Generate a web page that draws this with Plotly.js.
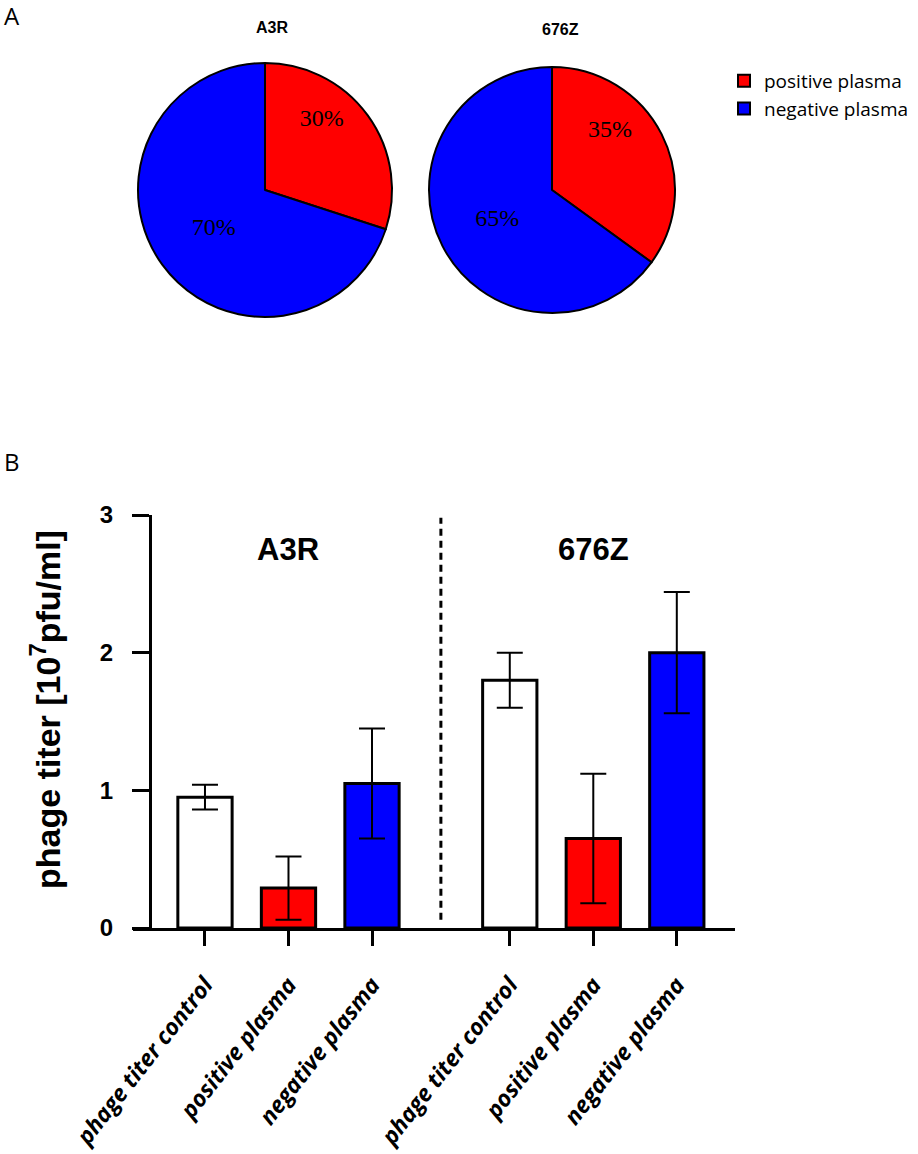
<!DOCTYPE html>
<html>
<head>
<meta charset="utf-8">
<script src="https://cdn.plot.ly/plotly-3.0.1.min.js"></script>
<style>
  html, body { margin: 0; padding: 0; background: #fff; }
  #chart { width: 918px; height: 1154px; }
</style>
</head>
<body>
<div id="chart"></div>
<script>
// panel A: share of plasma samples
const pieLabels = ['positive plasma', 'negative plasma'];
const pieA3R = [30, 70];
const pie676Z = [35, 65];

// panel B: phage titer (10^7 pfu/ml), mean and error
const strains = ['A3R', '676Z'];
const conditions = ['phage titer control', 'positive plasma', 'negative plasma'];
const titerA3R = [0.95, 0.29, 1.05];
const errA3R = [0.09, 0.23, 0.40];
const titer676Z = [1.80, 0.65, 2.00];
const err676Z = [0.20, 0.47, 0.44];

const W = 918, H = 1154;
const px = v => v / W;
const py = v => 1 - v / H;

const sliceColors = ['#ff0000', '#0000ff'];
const barColors = ['#ffffff', '#ff0000', '#0000ff'];
const GROUP_STEP = 3.65;

const pieFont = { family: 'Liberation Serif', size: 24, color: '#000' };

function makePie(values, xd, yd, showlegend) {
    return {
        type: 'pie',
        labels: pieLabels,
        values: values,
        sort: false,
        direction: 'clockwise',
        rotation: 0,
        // small slice label sits higher, toward the rim
        texttemplate: ['%{percent}<br> <br> ', '%{percent}'],
        textposition: 'inside',
        insidetextorientation: 'horizontal',
        textfont: pieFont,
        marker: { colors: sliceColors, line: { color: '#000', width: 2 } },
        domain: { x: xd, y: yd },
        showlegend: showlegend,
        hoverinfo: 'label+percent'
    };
}

const groups = [
    { name: strains[0], y: titerA3R, err: errA3R },
    { name: strains[1], y: titer676Z, err: err676Z }
];

const barX = [], barY = [], barErr = [], barCol = [], tickText = [];
groups.forEach((g, gi) => {
    conditions.forEach((c, i) => {
        barX.push(gi * GROUP_STEP + i);
        barY.push(g.y[i]);
        barErr.push(g.err[i]);
        barCol.push(barColors[i]);
        tickText.push(c);
    });
});

const bars = {
    type: 'bar',
    x: barX,
    y: barY,
    width: 0.65,
    marker: { color: barCol, line: { color: '#000', width: 3 } },
    error_y: { type: 'data', array: barErr, visible: true, color: '#000', thickness: 2, width: 13 },
    showlegend: false,
    xaxis: 'x',
    yaxis: 'y'
};

const data = [
    makePie(pieA3R, [px(138), px(392)], [py(317), py(63)], true),
    makePie(pie676Z, [px(429), px(675)], [py(313), py(67)], false),
    bars
];

const bold = { family: 'Liberation Sans', weight: 700, color: '#000' };
const dividerX = (2 + GROUP_STEP) / 2;

const annotations = [
    { text: 'A', x: px(2), y: py(15), xanchor: 'left', yanchor: 'middle',
      font: { family: 'Open Sans', size: 24, color: '#000' } },
    { text: 'B', x: px(2), y: py(462), xanchor: 'left', yanchor: 'middle',
      font: { family: 'Open Sans', size: 24, color: '#000' } },
    { text: strains[0], x: px(272), y: py(27), xanchor: 'center', yanchor: 'middle',
      font: Object.assign({ size: 16 }, bold) },
    { text: strains[1], x: px(560), y: py(29), xanchor: 'center', yanchor: 'middle',
      font: Object.assign({ size: 16 }, bold) },
    { text: 'phage titer [10<sup>7</sup>pfu/ml]', textangle: -90,
      x: px(45), y: py(710), xanchor: 'center', yanchor: 'middle',
      font: Object.assign({ size: 34 }, bold) }
];
groups.forEach((g, gi) => {
    annotations.push({
        text: g.name, xref: 'x', yref: 'y', x: gi * GROUP_STEP + 1, y: 2.75,
        xanchor: 'center', yanchor: 'middle', showarrow: false,
        font: Object.assign({ size: 31 }, bold)
    });
});
annotations.forEach(a => {
    a.showarrow = false;
    if (!a.xref) { a.xref = 'paper'; a.yref = 'paper'; }
});

const layout = {
    width: W,
    height: H,
    margin: { l: 0, r: 0, t: 0, b: 0 },
    paper_bgcolor: '#fff',
    plot_bgcolor: 'rgba(0,0,0,0)',
    showlegend: true,
    legend: {
        x: px(724), y: py(62), xanchor: 'left', yanchor: 'top',
        font: { family: 'Open Sans', size: 19, color: '#000' },
        tracegroupgap: 0
    },
    xaxis: {
        domain: [px(133), px(735)],
        range: [-0.862, 6.347],
        showgrid: false,
        zeroline: false,
        showline: true,
        linecolor: '#000',
        linewidth: 3,
        tickvals: barX,
        ticktext: tickText,
        ticks: 'outside',
        ticklen: 15,
        tickwidth: 3,
        tickcolor: '#000',
        tickangle: -52,
        ticklabelstandoff: 16,
        tickfont: { family: 'Open Sans', size: 23, weight: 700, style: 'italic', color: '#000' },
        fixedrange: true
    },
    yaxis: {
        domain: [py(928), py(515)],
        range: [0, 3],
        anchor: 'free',
        position: px(150),
        showgrid: false,
        zeroline: false,
        showline: true,
        linecolor: '#000',
        linewidth: 3,
        tickvals: [0, 1, 2, 3],
        ticks: 'outside',
        ticklen: 17,
        tickwidth: 3,
        tickcolor: '#000',
        ticklabelstandoff: 14,
        tickfont: Object.assign({ size: 24 }, bold),
        fixedrange: true
    },
    shapes: [
        { type: 'line', xref: 'x', yref: 'y', x0: dividerX, x1: dividerX, y0: 0.06, y1: 2.98,
          line: { color: '#000', width: 3, dash: '7px,5px' } }
    ],
    annotations: annotations
};

Plotly.newPlot('chart', data, layout, { staticPlot: true, displayModeBar: false });
</script>
</body>
</html>
